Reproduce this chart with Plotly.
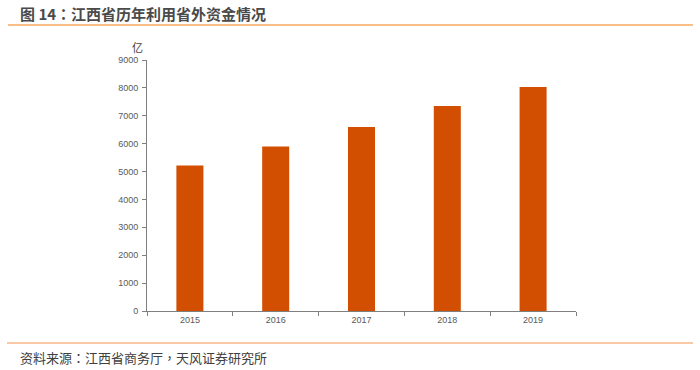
import plotly.graph_objects as go

years = ["2015", "2016", "2017", "2018", "2019"]
values = [5220, 5900, 6600, 7350, 8030]
y_ticks = [0, 1000, 2000, 3000, 4000, 5000, 6000, 7000, 8000, 9000]

title_text = "图 14：江西省历年利用省外资金情况"
source_text = "资料来源：江西省商务厅，天风证券研究所"
unit_text = "亿"

fig = go.Figure()
fig.add_trace(go.Bar(
    x=years, y=values,
    marker=dict(color="#D24E00", line=dict(width=0)),
    width=0.315,
))

cjk = "Noto Sans CJK TC"
fig.update_layout(
    width=700, height=370, autosize=False,
    margin=dict(l=147, r=124, t=60, b=59),
    paper_bgcolor="white", plot_bgcolor="white",
    showlegend=False,
    xaxis=dict(
        type="category",
        showline=True, linecolor="#7f7f7f", linewidth=1,
        ticks="outside", ticklen=4, tickcolor="#7f7f7f",
        tickson="boundaries",
        showgrid=False,
        tickfont=dict(family="Liberation Sans", size=9, color="#595959"),
        fixedrange=True,
    ),
    yaxis=dict(
        range=[0, 9000],
        tickvals=y_ticks,
        showline=True, linecolor="#7f7f7f", linewidth=1,
        ticks="outside", ticklen=4, tickcolor="#7f7f7f",
        showgrid=False, zeroline=False,
        tickfont=dict(family="Liberation Sans", size=9, color="#595959"),
        ticklabelstandoff=2,
        fixedrange=True,
    ),
    font=dict(family=cjk),
)

fig.add_annotation(
    text="<b>" + title_text + "</b>", xref="paper", yref="paper",
    x=(18 - 147) / 429, y=(311 - 14) / 251, xanchor="left", yanchor="middle",
    showarrow=False, font=dict(family=cjk, size=15, color="#4a4a4a"),
)
fig.add_annotation(
    text=source_text, xref="paper", yref="paper",
    x=(18 - 147) / 429, y=(311 - 357) / 251, xanchor="left", yanchor="middle",
    showarrow=False, font=dict(family=cjk, size=13, color="#404040"),
)
fig.add_annotation(
    text=unit_text, xref="paper", yref="paper",
    x=(137 - 147) / 429, y=(311 - 47) / 251, xanchor="center", yanchor="middle",
    showarrow=False, font=dict(family=cjk, size=11, color="#404040"),
)

# separator lines
fig.add_shape(type="line", xref="paper", yref="paper",
              x0=(8 - 147) / 429, x1=(693 - 147) / 429,
              y0=(311 - 25) / 251, y1=(311 - 25) / 251,
              line=dict(color="#F8A962", width=1.5))
fig.add_shape(type="line", xref="paper", yref="paper",
              x0=(7 - 147) / 429, x1=(693 - 147) / 429,
              y0=(311 - 343) / 251, y1=(311 - 343) / 251,
              line=dict(color="#F8B98A", width=1.5))

fig.write_html(
    "out.html",
    config={"displayModeBar": False},
    post_script="document.body.style.margin='0';document.body.style.overflow='hidden';",
)
